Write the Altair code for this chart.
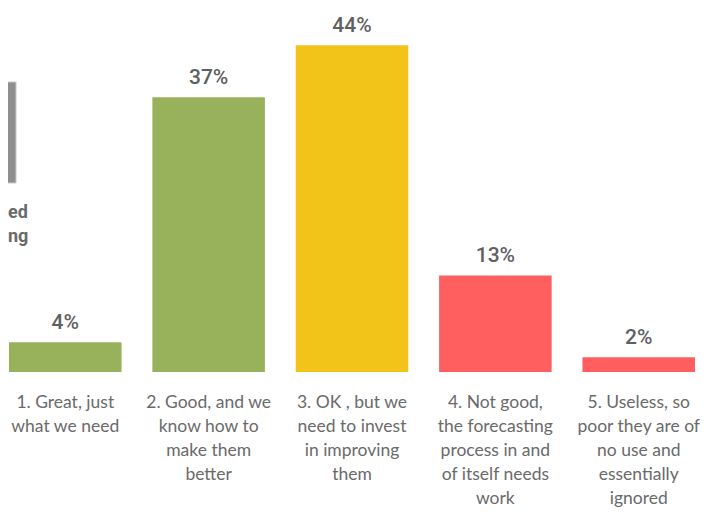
import altair as alt
import pandas as pd

categories = ["1", "2", "3", "4", "5"]
values = [4, 37, 44, 13, 2]
value_labels = ["4%", "37%", "44%", "13%", "2%"]
wrapped = [
    "1. Great, just\nwhat we need",
    "2. Good, and we\nknow how to\nmake them\nbetter",
    "3. OK , but we\nneed to invest\nin improving\nthem",
    "4. Not good,\nthe forecasting\nprocess in and\nof itself needs\nwork",
    "5. Useless, so\npoor they are of\nno use and\nessentially\nignored",
]
colors = ["#98B25C", "#98B25C", "#F2C419", "#FF5F5F", "#FF5F5F"]
side_text = ["ed", "ng"]

df = pd.DataFrame({"cat": categories, "value": values, "vlabel": value_labels,
                   "wrapped": wrapped, "color": colors})

W, H = 688, 364
x = alt.X("cat:N", sort=categories,
          scale=alt.Scale(paddingInner=0.215, paddingOuter=0.007), axis=None)
y = alt.Y("value:Q", scale=alt.Scale(domain=[0, 49]), axis=None)

base = alt.Chart(df)
bars = base.mark_bar().encode(x=x, y=y, color=alt.Color("color:N", scale=None))
vals = base.mark_text(baseline="alphabetic", dy=-13, font="Roboto", fontSize=21,
                      fontWeight=500, color="#5E5F63").encode(x=x, y=y, text="vlabel:N")
cats = base.mark_text(baseline="top", lineBreak="\n", lineHeight=24, font="Lato",
                      fontSize=17.5, color="#6A6A6A").encode(
    x=x, y=alt.value(H + 22), text="wrapped:N")

side_df = pd.DataFrame({"t": side_text})
box = alt.Chart(side_df.head(1)).mark_rect(color="#8F8F8F", stroke="#C8C8C8").encode(
    x=alt.value(-8), x2=alt.value(8), y=alt.value(74), y2=alt.value(175))
side1 = alt.Chart(side_df.iloc[[0]]).mark_text(
    align="left", baseline="middle", font="Roboto", fontSize=18, fontWeight="bold",
    color="#6A6A6A").encode(x=alt.value(0), y=alt.value(205), text="t:N")
side2 = alt.Chart(side_df.iloc[[1]]).mark_text(
    align="left", baseline="middle", font="Roboto", fontSize=18, fontWeight="bold",
    color="#6A6A6A").encode(x=alt.value(0), y=alt.value(229), text="t:N")

chart = alt.layer(box, side1, side2, bars, vals, cats).properties(
    width=W, height=H,
    padding={"left": 0, "top": 0, "right": 15, "bottom": 135},
    autosize=alt.AutoSizeParams(type="none")
).configure_view(stroke=None)

chart.save("out.html", embed_options={"renderer": "svg", "actions": False})
